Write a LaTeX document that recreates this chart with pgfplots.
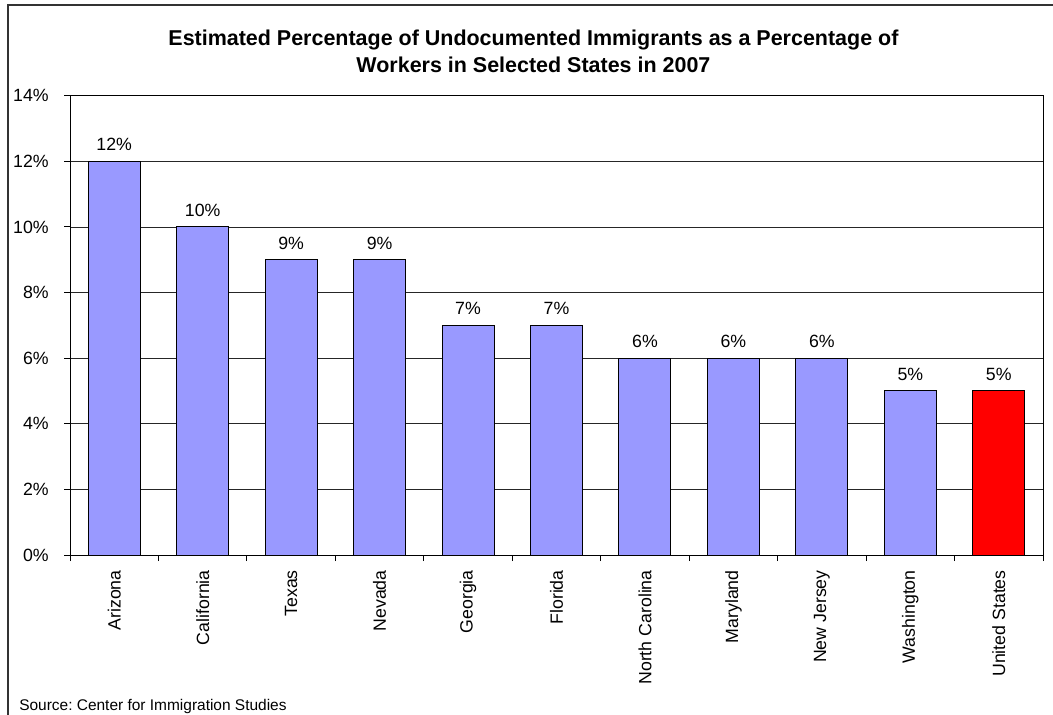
\documentclass[border=0pt]{standalone}
\usepackage{pgfplots}
\pgfplotsset{compat=1.18}
\usepackage{fontspec}
\setmainfont{Liberation Sans}
\frenchspacing
\definecolor{barblue}{HTML}{9999FF}
\definecolor{barred}{HTML}{FF0000}
\begin{document}
\begin{tikzpicture}
\useasboundingbox (0,0) rectangle (789.75pt,-535.5pt);
\draw[line width=1.2pt, black!80] (6pt,-540pt) -- (6pt,-3.75pt) -- (795pt,-3.75pt);
\node[anchor=base, inner sep=0pt, font=\bfseries\fontsize{16.1}{19}\selectfont] at (400.1pt,-33.75pt) {Estimated Percentage of Undocumented Immigrants as a Percentage of};
\node[anchor=base, inner sep=0pt, font=\bfseries\fontsize{16.1}{19}\selectfont] at (400.1pt,-54.4pt) {Workers in Selected States in 2007};
\node[anchor=base west, inner sep=0pt, font=\fontsize{11.6}{14}\selectfont] at (14.25pt,-532.5pt) {Source: Center for Immigration Studies};
\begin{axis}[
  at={(52.5pt,-416.25pt)}, anchor=south west,
  scale only axis, width=729.75pt, height=344.5pt,
  xmin=-0.5, xmax=10.5, ymin=0, ymax=14,
  ybar, bar width=39pt, bar shift=0pt,
  /pgf/number format/assume math mode=true,
  axis line style={black, line width=0.75pt},
  tick style={black, line width=0.75pt},
  tick align=outside, major tick length=4.5pt,
  xtick pos=bottom, ytick pos=left,
  xtick={-0.5,0.5,...,10.5}, xticklabels={},
  extra x ticks={0,1,2,3,4,5,6,7,8,9,10},
  extra x tick labels={Arizona,California,Texas,Nevada,Georgia,Florida,North Carolina,Maryland,New Jersey,Washington,United States},
  extra x tick style={major tick length=0pt, tick label style={rotate=90, anchor=east, inner sep=0pt}},
  xticklabel shift=11.25pt,
  ytick={0,2,...,14},
  yticklabels={0\%,2\%,4\%,6\%,8\%,10\%,12\%,14\%},
  yticklabel style={inner sep=0pt},
  yticklabel shift=11.25pt,
  tick label style={font=\fontsize{13.3}{15}\selectfont},
  ymajorgrids, grid style={black!85, line width=0.6pt},
  nodes near coords={\pgfmathprintnumber{\pgfplotspointmeta}\%},
  nodes near coords align={vertical},
  every node near coord/.append style={font=\fontsize{13.3}{15}\selectfont, anchor=south, inner sep=0pt, yshift=7.5pt},
]
\addplot[fill=barblue, draw=black, line width=0.75pt, bar shift=0pt] coordinates {(0,12) (1,10) (2,9) (3,9) (4,7) (5,7) (6,6) (7,6) (8,6) (9,5)};
\addplot[fill=barred, draw=black, line width=0.75pt, bar shift=0pt] coordinates {(10,5)};
\end{axis}
\end{tikzpicture}
\end{document}
